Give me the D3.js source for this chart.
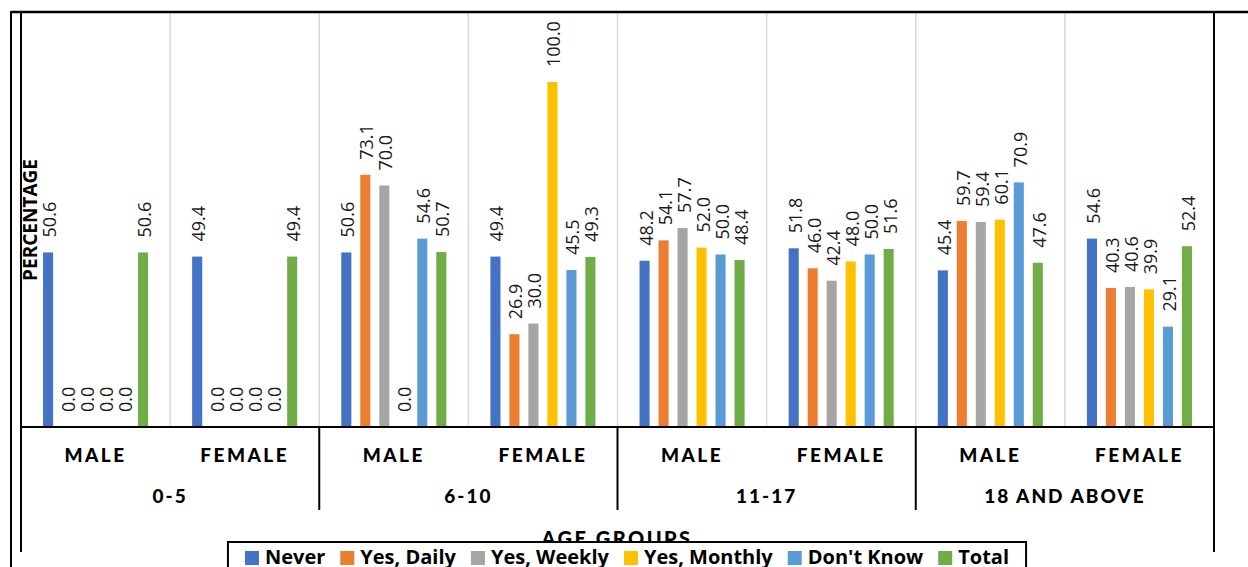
<!DOCTYPE html>
<html>
<head>
<meta charset="utf-8">
<script src="https://cdn.jsdelivr.net/npm/d3@7"></script>
<style>
  html, body { margin: 0; padding: 0; background: #fff; }
  svg { display: block; }
</style>
</head>
<body>
<svg id="chart" width="1248" height="567"></svg>
<script>
// Age groups, each split into male / female columns
const ageGroups = ["0-5", "6-10", "11-17", "18 AND ABOVE"];
const genders = ["MALE", "FEMALE"];
const seriesNames = ["Never", "Yes, Daily", "Yes, Weekly", "Yes, Monthly", "Don't Know", "Total"];
const seriesColors = ["#4472C4", "#ED7D31", "#A5A5A5", "#FFC000", "#5B9BD5", "#70AD47"];

// Percentages per column (age group x gender), one value per series
const never   = [50.6, 49.4, 50.6, 49.4, 48.2, 51.8, 45.4, 54.6];
const daily   = [0.0, 0.0, 73.1, 26.9, 54.1, 46.0, 59.7, 40.3];
const weekly  = [0.0, 0.0, 70.0, 30.0, 57.7, 42.4, 59.4, 40.6];
const monthly = [0.0, 0.0, 0.0, 100.0, 52.0, 48.0, 60.1, 39.9];
const dontKnow = [0.0, 0.0, 54.6, 45.5, 50.0, 50.0, 70.9, 29.1];
const total   = [50.6, 49.4, 50.7, 49.3, 48.4, 51.6, 47.6, 52.4];
const yTicks = [0, 20, 40, 60, 80, 100, 120];

const seriesValues = [never, daily, weekly, monthly, dontKnow, total];

const columns = [];
ageGroups.forEach((g, gi) => genders.forEach((s, si) => columns.push({
  key: g + "|" + s, group: g, gender: s, index: gi * 2 + si
})));

const svg = d3.select("#chart");
const plot = { left: 21, right: 1214, top: 13, bottom: 427 };

const x0 = d3.scaleBand()
  .domain(columns.map(c => c.key))
  .range([plot.left, plot.right])
  .padding(0);

const x1 = d3.scaleBand()
  .domain(seriesNames)
  .range([0, x0.bandwidth()])
  .paddingInner(0.47)
  .paddingOuter(1.16);

const y = d3.scaleLinear()
  .domain([yTicks[0], yTicks[yTicks.length - 1]])
  .range([plot.bottom, plot.top]);

// Vertical gridlines between columns
svg.append("g")
  .selectAll("line")
  .data(columns.slice(1))
  .join("line")
  .attr("x1", d => x0(d.key)).attr("x2", d => x0(d.key))
  .attr("y1", plot.top).attr("y2", plot.bottom)
  .attr("stroke", "#d9d9d9")
  .attr("stroke-width", 1.5);

// Bars
const colG = svg.append("g")
  .selectAll("g")
  .data(columns)
  .join("g")
  .attr("transform", d => `translate(${x0(d.key)},0)`);

const cells = colG.selectAll("g.cell")
  .data(c => seriesNames.map((name, si) => ({ name, si, v: seriesValues[si][c.index] })))
  .join("g")
  .attr("class", "cell");

cells.filter(d => d.v > 0).append("rect")
  .attr("x", d => x1(d.name))
  .attr("width", x1.bandwidth())
  .attr("y", d => y(d.v))
  .attr("height", d => y(0) - y(d.v))
  .attr("fill", d => seriesColors[d.si]);

// Value labels, rotated, sitting above each bar
cells.append("text")
  .attr("transform", d => `translate(${x1(d.name) + x1.bandwidth() / 2 + 1.5},${y(d.v) - 15}) rotate(-90)`)
  .attr("dy", "0.36em")
  .attr("text-anchor", "start")
  .attr("font-family", "'Open Sans', sans-serif")
  .attr("font-size", 18)
  .attr("fill", "#1a1a1a")
  .text(d => d.v.toFixed(1));

// Frame lines
const frame = svg.append("g").attr("stroke", "#000").attr("fill", "none");
frame.append("line").attr("x1", 11).attr("x2", 1248).attr("y1", 12).attr("y2", 12).attr("stroke-width", 2.5);
frame.append("line").attr("x1", 11).attr("x2", 11).attr("y1", 11).attr("y2", 567).attr("stroke-width", 2);
frame.append("line").attr("x1", plot.left).attr("x2", plot.left).attr("y1", 11).attr("y2", 552).attr("stroke-width", 2);
frame.append("line").attr("x1", plot.right).attr("x2", plot.right).attr("y1", 11).attr("y2", 552).attr("stroke-width", 2);
frame.append("line").attr("x1", plot.left).attr("x2", plot.right).attr("y1", plot.bottom).attr("y2", plot.bottom).attr("stroke-width", 2);

// Separators between age groups under the axis
frame.selectAll("line.sep")
  .data(ageGroups.slice(1))
  .join("line")
  .attr("class", "sep")
  .attr("x1", g => x0(g + "|MALE")).attr("x2", g => x0(g + "|MALE"))
  .attr("y1", plot.bottom).attr("y2", 510)
  .attr("stroke-width", 2);

// Gender labels
svg.append("g")
  .selectAll("text")
  .data(columns)
  .join("text")
  .attr("x", d => x0(d.key) + x0.bandwidth() / 2)
  .attr("y", 462)
  .attr("text-anchor", "middle")
  .attr("font-family", "Lato, sans-serif")
  .attr("font-weight", 900)
  .attr("font-size", 19)
  .attr("letter-spacing", 2.5)
  .attr("fill", "#000")
  .text(d => d.gender);

// Age group labels
svg.append("g")
  .selectAll("text")
  .data(ageGroups)
  .join("text")
  .attr("x", g => (x0(g + "|MALE") + x0(g + "|FEMALE") + x0.bandwidth()) / 2)
  .attr("y", 503)
  .attr("text-anchor", "middle")
  .attr("font-family", "Lato, sans-serif")
  .attr("font-weight", 900)
  .attr("font-size", 19)
  .attr("letter-spacing", 2)
  .attr("fill", "#000")
  .text(g => g);

// Axis titles
svg.append("text")
  .attr("transform", "translate(37,220) rotate(-90)")
  .attr("text-anchor", "middle")
  .attr("font-family", "'Open Sans', sans-serif")
  .attr("font-weight", 700)
  .attr("font-size", 19)
  .attr("fill", "#000")
  .text("PERCENTAGE");

svg.append("text")
  .attr("x", 617)
  .attr("y", 546)
  .attr("text-anchor", "middle")
  .attr("font-family", "Lato, sans-serif")
  .attr("font-weight", 900)
  .attr("font-size", 20)
  .attr("letter-spacing", 2.5)
  .attr("fill", "#000")
  .text("AGE GROUPS");

// Legend box
const legend = svg.append("g");
const legendBox = legend.append("rect")
  .attr("y", 542)
  .attr("height", 40)
  .attr("fill", "#fff")
  .attr("stroke", "#000")
  .attr("stroke-width", 2);

const items = legend.selectAll("g.item")
  .data(seriesNames)
  .join("g")
  .attr("class", "item");

items.append("rect")
  .attr("y", 551)
  .attr("width", 14)
  .attr("height", 14)
  .attr("fill", (d, i) => seriesColors[i]);

items.append("text")
  .attr("x", 20)
  .attr("y", 564)
  .attr("font-family", "'Open Sans', sans-serif")
  .attr("font-weight", 700)
  .attr("font-size", 20)
  .attr("fill", "#000")
  .text(d => d);

// Lay items out left to right from their measured text widths
const itemGap = 15;
let cursor = 0;
const offsets = [];
items.each(function () {
  offsets.push(cursor);
  const w = d3.select(this).select("text").node().getComputedTextLength();
  cursor += 20 + w + itemGap;
});
const contentWidth = cursor - itemGap;
const legendCenter = 627;
const start = legendCenter - contentWidth / 2;
items.each(function (d, i) {
  d3.select(this).select("rect").attr("x", start + offsets[i]);
  d3.select(this).select("text").attr("x", start + offsets[i] + 20);
});
legendBox.attr("x", start - 17).attr("width", contentWidth + 34);
</script>
</body>
</html>
